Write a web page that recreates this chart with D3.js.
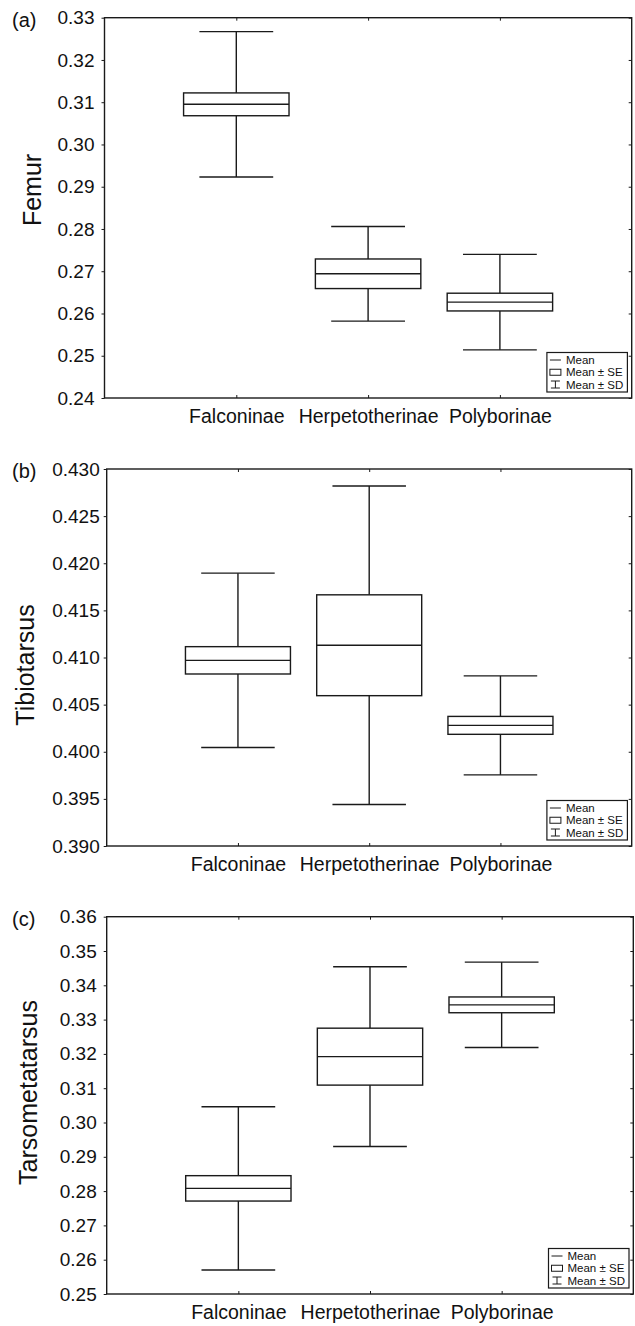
<!DOCTYPE html>
<html>
<head>
<meta charset="utf-8">
<script src="https://cdn.jsdelivr.net/npm/d3@7"></script>
<style>
  html, body { margin: 0; padding: 0; background: #fff; }
  svg { display: block; }
  text { font-family: "Liberation Sans", Arial, Helvetica, sans-serif; fill: #111; }
</style>
</head>
<body>
<svg id="chart" width="635" height="1326"></svg>
<script>
// categories (subfamilies)
const categories = ["Falconinae", "Herpetotherinae", "Polyborinae"];

// (a) Femur
const femurMean = [0.3095, 0.2694, 0.2627];
const femurSE   = [0.0027, 0.0035, 0.0021];
const femurSD   = [0.0172, 0.0112, 0.0113];
const femurTicks = [0.24, 0.25, 0.26, 0.27, 0.28, 0.29, 0.30, 0.31, 0.32, 0.33];

// (b) Tibiotarsus
const tibioMean = [0.4097, 0.4113, 0.4028];
const tibioSE   = [0.00145, 0.00535, 0.00095];
const tibioSD   = [0.00925, 0.0169, 0.00525];
const tibioTicks = [0.390, 0.395, 0.400, 0.405, 0.410, 0.415, 0.420, 0.425, 0.430];

// (c) Tarsometatarsus
const tarsoMean = [0.2808, 0.3192, 0.3343];
const tarsoSE   = [0.0037, 0.0083, 0.0023];
const tarsoSD   = [0.0238, 0.0262, 0.01245];
const tarsoTicks = [0.25, 0.26, 0.27, 0.28, 0.29, 0.30, 0.31, 0.32, 0.33, 0.34, 0.35, 0.36];

const legendItems = ["Mean", "Mean \u00b1 SE", "Mean \u00b1 SD"];

// panel layout
const panels = [
  {tag: "(a)", title: "Femur", mean: femurMean, se: femurSE, sd: femurSD, ticks: femurTicks, fmt: ".2f",
   left: 104.5, right: 631.7, top: 17.7, bottom: 398, labelGap: 10, titleX: 31.7, titleY: 190},
  {tag: "(b)", title: "Tibiotarsus", mean: tibioMean, se: tibioSE, sd: tibioSD, ticks: tibioTicks, fmt: ".3f",
   left: 106.7, right: 631.7, top: 469, bottom: 846, labelGap: 7, titleX: 25, titleY: 665},
  {tag: "(c)", title: "Tarsometatarsus", mean: tarsoMean, se: tarsoSE, sd: tarsoSD, ticks: tarsoTicks, fmt: ".2f",
   left: 106.7, right: 633.3, top: 916.7, bottom: 1294, labelGap: 10, titleX: 28.3, titleY: 1092.5}
];

const ink = "#1a1a1a";
const svg = d3.select("#chart");

panels.forEach(p => {
  const g = svg.append("g");
  const x = d3.scaleLinear().domain([0, categories.length + 1]).range([p.left, p.right]);
  const y = d3.scaleLinear().domain(d3.extent(p.ticks)).range([p.bottom, p.top]);
  const band = x(1) - x(0);
  const boxW = band * 0.8;
  const capW = band * 0.56;

  // left axis, ticks outward with labels
  const axL = g.append("g").attr("transform", `translate(${p.left},0)`)
    .call(d3.axisLeft(y).tickValues(p.ticks).tickFormat(d3.format(p.fmt)).tickSize(3).tickPadding(p.labelGap - 3));
  // right axis, inner ticks
  const axR = g.append("g").attr("transform", `translate(${p.right},0)`)
    .call(d3.axisRight(y).tickValues(p.ticks).tickSize(-3).tickFormat(""));
  // top axis, inner ticks at categories
  const axT = g.append("g").attr("transform", `translate(0,${p.top})`)
    .call(d3.axisTop(x).tickValues([1, 2, 3]).tickSize(-3).tickFormat(""));
  // bottom axis, inner ticks + category labels
  const axB = g.append("g").attr("transform", `translate(0,${p.bottom})`)
    .call(d3.axisBottom(x).tickValues([1, 2, 3]).tickSize(-3).tickPadding(11)
      .tickFormat(d => categories[d - 1]));

  [axL, axR, axT, axB].forEach(a => {
    a.select(".domain").remove();
    a.selectAll("line").attr("stroke", ink).attr("stroke-width", 1);
  });
  axL.selectAll("text").style("font-size", "19px").attr("fill", "#111");
  axB.selectAll("text").style("font-size", "19.5px").attr("fill", "#111");
  axL.attr("font-family", null); axB.attr("font-family", null);

  // frame
  g.append("rect")
    .attr("x", p.left).attr("y", p.top)
    .attr("width", p.right - p.left).attr("height", p.bottom - p.top)
    .attr("fill", "none").attr("stroke", ink).attr("stroke-width", 1.4);

  // boxes
  const rows = categories.map((c, i) => ({i, mean: p.mean[i], se: p.se[i], sd: p.sd[i]}));
  const box = g.selectAll(".box").data(rows).join("g").attr("class", "box")
    .attr("stroke", ink).attr("stroke-width", 1.4).attr("fill", "none");

  box.append("line")
    .attr("x1", d => x(d.i + 1)).attr("x2", d => x(d.i + 1))
    .attr("y1", d => y(d.mean + d.sd)).attr("y2", d => y(d.mean + d.se));
  box.append("line")
    .attr("x1", d => x(d.i + 1)).attr("x2", d => x(d.i + 1))
    .attr("y1", d => y(d.mean - d.se)).attr("y2", d => y(d.mean - d.sd));
  box.append("line")
    .attr("x1", d => x(d.i + 1) - capW / 2).attr("x2", d => x(d.i + 1) + capW / 2)
    .attr("y1", d => y(d.mean + d.sd)).attr("y2", d => y(d.mean + d.sd));
  box.append("line")
    .attr("x1", d => x(d.i + 1) - capW / 2).attr("x2", d => x(d.i + 1) + capW / 2)
    .attr("y1", d => y(d.mean - d.sd)).attr("y2", d => y(d.mean - d.sd));
  box.append("rect")
    .attr("x", d => x(d.i + 1) - boxW / 2).attr("width", boxW)
    .attr("y", d => y(d.mean + d.se)).attr("height", d => y(d.mean - d.se) - y(d.mean + d.se))
    .attr("fill", "#fff");
  box.append("line")
    .attr("x1", d => x(d.i + 1) - boxW / 2).attr("x2", d => x(d.i + 1) + boxW / 2)
    .attr("y1", d => y(d.mean)).attr("y2", d => y(d.mean));

  // y title
  g.append("text")
    .attr("transform", `translate(${p.titleX},${p.titleY}) rotate(-90)`)
    .attr("text-anchor", "middle").attr("dominant-baseline", "central")
    .style("font-size", "25px").text(p.title);

  // panel tag
  g.append("text").attr("x", 12).attr("y", p.top + 9)
    .style("font-size", "20px").text(p.tag);

  // legend
  const lw = 80.5, lh = 39.5;
  const lx = p.right - 4.3 - lw, ly = p.bottom - 6 - lh;
  const lg = g.append("g").attr("transform", `translate(${lx},${ly})`);
  lg.append("rect").attr("width", lw).attr("height", lh)
    .attr("fill", "#fff").attr("stroke", ink).attr("stroke-width", 1.2);
  const rowY = d3.scalePoint().domain(legendItems).range([7.5, 32]);
  lg.selectAll("text").data(legendItems).join("text")
    .attr("x", 19).attr("y", d => rowY(d)).attr("dominant-baseline", "central")
    .style("font-size", "11.5px").text(d => d);
  const sym = lg.append("g").attr("stroke", ink).attr("stroke-width", 1).attr("fill", "none");
  const r0 = rowY(legendItems[0]), r1 = rowY(legendItems[1]), r2 = rowY(legendItems[2]);
  sym.append("line").attr("x1", 3).attr("x2", 14).attr("y1", r0).attr("y2", r0);
  sym.append("rect").attr("x", 3).attr("y", r1 - 3).attr("width", 11).attr("height", 6);
  sym.append("line").attr("x1", 4).attr("x2", 13).attr("y1", r2 - 3.5).attr("y2", r2 - 3.5);
  sym.append("line").attr("x1", 4).attr("x2", 13).attr("y1", r2 + 3.5).attr("y2", r2 + 3.5);
  sym.append("line").attr("x1", 8.5).attr("x2", 8.5).attr("y1", r2 - 3.5).attr("y2", r2 + 3.5);
});
</script>
</body>
</html>
